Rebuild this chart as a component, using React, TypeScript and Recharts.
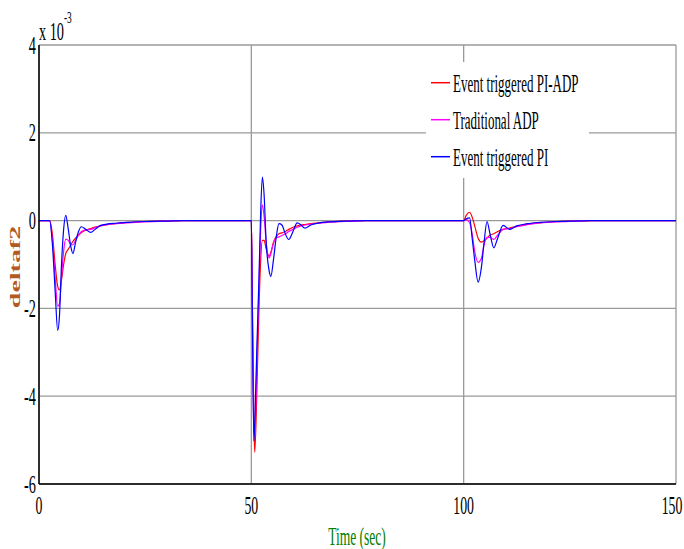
import React from 'react';
import {
  LineChart,
  Line,
  XAxis,
  YAxis,
  CartesianGrid,
  Legend
} from 'recharts';

// time axis (sec) shared by all three responses
const time = [
  0, 2.5, 3.2, 3.8, 4.4, 4.8, 5.3, 5.8, 6.3, 6.9, 7.5, 8.0, 8.6, 9.3, 10.0, 11.0, 12.2, 13.2, 14.5, 16, 18, 21, 25, 30, 34,
  50.0, 50.2, 50.6, 50.8, 51.3, 51.8, 52.2, 52.6, 53.0, 53.5, 54.2, 54.6, 55.2, 55.9, 56.5, 57.2, 58.0, 58.8, 59.8, 60.8, 61.7, 62.6, 64, 66, 68, 72, 77,
  100.0, 100.6, 101.4, 102.0, 102.6, 103.4, 104.2, 104.8, 105.5, 106.2, 107.1, 108.0, 109.3, 110.8, 112.5, 115, 118, 122, 126, 130, 150
];

// deltaf2 (x 10^-3)
const piAdp = [
  0, 0, -0.35, -1.0, -1.5, -1.58, -1.35, -1.0, -0.75, -0.65, -0.55, -0.47, -0.4, -0.33, -0.27, -0.22, -0.18, -0.15, -0.12, -0.09, -0.07, -0.04, -0.02, -0.01, 0,
  0, -1.5, -4.6, -5.28, -3.9, -2.0, -0.9, -0.45, -0.45, -0.65, -0.81, -0.72, -0.5, -0.36, -0.3, -0.28, -0.25, -0.2, -0.15, -0.12, -0.1, -0.09, -0.07, -0.05, -0.03, -0.01, 0,
  0, 0.12, 0.19, 0.08, -0.12, -0.4, -0.49, -0.46, -0.4, -0.33, -0.3, -0.25, -0.2, -0.17, -0.13, -0.08, -0.05, -0.02, -0.01, 0, 0
];

const tradAdp = [
  0, 0, -0.5, -1.3, -1.95, -1.9, -1.3, -0.7, -0.42, -0.45, -0.55, -0.55, -0.45, -0.33, -0.25, -0.21, -0.2, -0.16, -0.12, -0.09, -0.07, -0.05, -0.03, -0.01, 0,
  0, -1.5, -4.8, -4.9, -3.2, -1.5, -0.2, 0.36, 0.1, -0.5, -0.85, -0.75, -0.52, -0.39, -0.37, -0.34, -0.3, -0.25, -0.2, -0.15, -0.12, -0.1, -0.08, -0.06, -0.04, -0.02, 0,
  0, 0.02, -0.05, -0.3, -0.7, -0.95, -0.85, -0.55, -0.38, -0.38, -0.43, -0.33, -0.2, -0.18, -0.14, -0.09, -0.05, -0.03, -0.01, 0, 0
];

const pi = [
  0, 0, -0.6, -1.6, -2.5, -2.2, -1.0, -0.2, 0.12, -0.2, -0.6, -0.75, -0.5, -0.25, -0.14, -0.2, -0.27, -0.2, -0.11, -0.08, -0.06, -0.04, -0.02, -0.01, 0,
  0, -1.8, -5.02, -4.6, -2.9, -1.3, 0.2, 0.99, 0.6, -0.5, -1.15, -1.27, -0.9, -0.35, -0.07, -0.1, -0.3, -0.43, -0.25, -0.05, -0.1, -0.17, -0.1, -0.05, -0.03, -0.01, 0,
  0, 0.04, 0.06, -0.4, -0.9, -1.4, -1.05, -0.5, -0.02, -0.3, -0.62, -0.4, -0.11, -0.2, -0.12, -0.07, -0.04, -0.02, -0.01, 0, 0
];

const xTicks = [0, 50, 100, 150];
const yTicks = [-6, -4, -2, 0, 2, 4];
const legendOrder = ['piAdp', 'tradAdp', 'pi'];

const data = time.map((t, i) => ({ t, piAdp: piAdp[i], tradAdp: tradAdp[i], pi: pi[i] }));

const FONT = 'Liberation Serif, Times New Roman, serif';

const XTick = ({ x, payload }: any) => (
  <text transform={`translate(${x}, 514) scale(0.53,1)`} textAnchor="middle" fontSize={26} fontFamily={FONT} fill="#000">
    {payload.value}
  </text>
);

const YTick = ({ y, payload }: any) => (
  <g>
    <text transform={`translate(36, ${y + 8.5}) scale(0.55,1)`} textAnchor="end" fontSize={26} fontFamily={FONT} fill="#000">
      {payload.value}
    </text>
    {payload.value === 4 && (
      <g>
        <text transform="translate(39, 40) scale(0.55,1)" fontSize={26} fontFamily={FONT} fill="#000">x 10</text>
        <text transform="translate(64, 23) scale(0.55,1)" fontSize={17} fontFamily={FONT} fill="#000">-3</text>
      </g>
    )}
  </g>
);

const LegendBox = ({ payload }: any) => {
  const items = [...(payload || [])].sort(
    (a: any, b: any) => legendOrder.indexOf(a.dataKey) - legendOrder.indexOf(b.dataKey)
  );
  return (
    <svg width={163} height={116} style={{ display: 'block' }}>
      <rect x={0} y={0} width={163} height={116} fill="#fff" />
      {items.map((item: any, i: number) => {
        const cy = 20.7 + i * 37;
        return (
          <g key={item.value}>
            <line x1={5} x2={24} y1={cy} y2={cy} stroke={item.color} strokeWidth={1.5} />
            <text transform={`translate(27, ${cy + 9}) scale(0.52,1)`} fontSize={25} fontFamily={FONT} fill="#000">
              {item.value}
            </text>
          </g>
        );
      })}
    </svg>
  );
};

const App: React.FC = () => {
  return (
    <div style={{ position: 'absolute', left: 0, top: 0, background: '#fff' }}>
      <LineChart width={684} height={549} data={data} margin={{ top: 45, right: 8, bottom: 25, left: 0 }}>
        <CartesianGrid stroke="#9a9a9a" strokeWidth={1.3} />
        <XAxis
          dataKey="t"
          type="number"
          domain={[0, 150]}
          ticks={xTicks}
          height={40}
          tickLine={false}
          tick={XTick}
          axisLine={{ stroke: '#000', strokeWidth: 1.5 }}
          label={{
            value: 'Time (sec)',
            content: () => (
              <text transform="translate(357, 545) scale(0.52,1)" textAnchor="middle" fontSize={26} fontFamily={FONT} fill="#008000">
                Time (sec)
              </text>
            )
          }}
        />
        <XAxis
          xAxisId="top"
          orientation="top"
          dataKey="t"
          type="number"
          domain={[0, 150]}
          ticks={xTicks}
          height={0}
          tick={false}
          tickLine={false}
          axisLine={{ stroke: '#000', strokeWidth: 1.5 }}
        />
        <YAxis
          type="number"
          domain={[-6, 4]}
          ticks={yTicks}
          width={39}
          tickLine={false}
          tick={YTick}
          allowDataOverflow
          axisLine={{ stroke: '#000', strokeWidth: 1.5 }}
          label={{
            value: 'deltaf2',
            content: () => (
              <text transform="translate(20, 267) rotate(-90) scale(1,0.55)" textAnchor="middle" fontSize={28} fontWeight="bold" fontFamily={FONT} fill="#b35a24">
                deltaf2
              </text>
            )
          }}
        />
        <YAxis
          yAxisId="right"
          orientation="right"
          type="number"
          domain={[-6, 4]}
          ticks={yTicks}
          width={0}
          tick={false}
          tickLine={false}
          axisLine={{ stroke: '#000', strokeWidth: 1.5 }}
        />
        <Legend
          layout="vertical"
          align="center"
          verticalAlign="middle"
          content={LegendBox}
          wrapperStyle={{ left: 426, top: 62, width: 163, height: 116 }}
        />
        <Line type="monotone" dataKey="piAdp" name="Event triggered PI-ADP" stroke="#ff0000" strokeWidth={1.2} dot={false} isAnimationActive={false} />
        <Line type="monotone" dataKey="tradAdp" name="Traditional ADP" stroke="#ff00ff" strokeWidth={1.2} dot={false} isAnimationActive={false} />
        <Line type="monotone" dataKey="pi" name="Event triggered PI" stroke="#0000ff" strokeWidth={1.2} dot={false} isAnimationActive={false} />
      </LineChart>
    </div>
  );
};

export default App;
